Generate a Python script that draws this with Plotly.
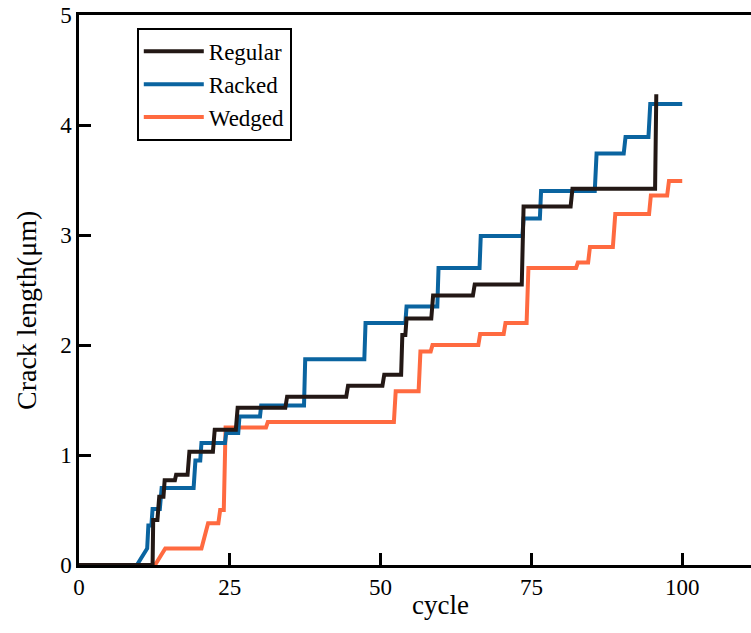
import plotly.graph_objects as go

# ---- data ----
regular_x = [0, 12.2, 12.3, 13.0, 13.3, 14.0, 14.2, 15.9, 16.1, 18.0, 18.3, 22.2, 22.5, 26.0, 26.3,
             34.2, 34.5, 44.3, 44.6, 50.3, 50.6, 53.4, 53.6, 54.1, 54.3, 58.4, 58.7, 65.3, 65.6,
             73.4, 73.7, 81.5, 81.8, 95.5, 95.7]
regular_y = [0, 0, 0.41, 0.41, 0.62, 0.62, 0.77, 0.77, 0.82, 0.82, 1.03, 1.03, 1.23, 1.23, 1.43,
             1.43, 1.53, 1.53, 1.63, 1.63, 1.73, 1.73, 2.09, 2.09, 2.24, 2.24, 2.45, 2.45, 2.55,
             2.55, 3.26, 3.26, 3.42, 3.42, 4.28]

racked_x = [0, 9.6, 11.3, 11.5, 12.0, 12.2, 13.4, 13.7, 19.0, 19.3, 20.1, 20.3, 24.2, 24.4, 26.4,
            26.6, 30.0, 30.2, 37.3, 37.5, 47.3, 47.5, 54.1, 54.3, 59.4, 59.6, 66.4, 66.6, 73.5,
            73.7, 76.4, 76.6, 85.5, 85.8, 90.3, 90.6, 94.4, 94.7, 100]
racked_y = [0, 0, 0.15, 0.36, 0.36, 0.51, 0.51, 0.70, 0.70, 0.95, 0.95, 1.11, 1.11, 1.20, 1.20,
            1.35, 1.35, 1.45, 1.45, 1.87, 1.87, 2.20, 2.20, 2.35, 2.35, 2.70, 2.70, 2.99, 2.99,
            3.15, 3.15, 3.40, 3.40, 3.74, 3.74, 3.89, 3.89, 4.19, 4.19]

wedged_x = [10.1, 12.6, 14.3, 20.3, 21.4, 23.1, 23.4, 24.0, 24.3, 31.0, 31.3, 52.2, 52.5, 56.3,
            56.6, 58.3, 58.6, 66.2, 66.5, 70.4, 70.7, 74.2, 74.5, 82.4, 82.7, 84.4, 84.7, 88.5,
            88.9, 94.5, 94.8, 97.5, 97.8, 100]
wedged_y = [0, 0, 0.15, 0.15, 0.38, 0.38, 0.50, 0.50, 1.25, 1.25, 1.30, 1.30, 1.58, 1.58,
            1.94, 1.94, 2.00, 2.00, 2.10, 2.10, 2.20, 2.20, 2.70, 2.70, 2.75, 2.75, 2.89, 2.89,
            3.19, 3.19, 3.36, 3.36, 3.49, 3.49]

x_ticks = [0, 25, 50, 75, 100]
y_ticks = [0, 1, 2, 3, 4, 5]
x_title = "cycle"
y_title = "Crack length(μm)"

FONT = "Liberation Serif"
BLACK = "#231815"
BLUE = "#0a64a0"
ORANGE = "#ff6a40"

W, H = 751, 633
ML, MR, MT, MB = 79, 0, 15, 68

fig = go.Figure()
fig.add_trace(go.Scatter(x=wedged_x, y=wedged_y, mode="lines", name="Wedged",
                         line=dict(color=ORANGE, width=4)))
fig.add_trace(go.Scatter(x=racked_x, y=racked_y, mode="lines", name="Racked",
                         line=dict(color=BLUE, width=4)))
fig.add_trace(go.Scatter(x=regular_x, y=regular_y, mode="lines", name="Regular",
                         line=dict(color=BLACK, width=4)))

pw, ph = W - ML - MR, H - MT - MB

fig.update_layout(
    width=W, height=H,
    margin=dict(l=ML, r=MR, t=MT, b=MB),
    paper_bgcolor="white", plot_bgcolor="white",
    font=dict(family=FONT, size=22, color="black"),
    showlegend=True,
    legend=dict(
        x=0.086, y=0.874, xanchor="left", yanchor="middle",
        traceorder="reversed",
        bordercolor="black", borderwidth=2, bgcolor="white",
        font=dict(family=FONT, size=23, color="black"),
        itemwidth=60, tracegroupgap=0, entrywidth=165, entrywidthmode="pixels",
    ),
    xaxis=dict(
        range=[0, 111.4], tickvals=x_ticks, ticks="inside", ticklen=12, tickwidth=2.5,
        tickcolor="black", showline=True, linecolor="black", linewidth=2.5, mirror=False,
        showgrid=False, zeroline=False, layer="below traces",
        tickfont=dict(family=FONT, size=23),
    ),
    yaxis=dict(
        range=[0, 5], tickvals=y_ticks, ticks="inside", ticklen=12, tickwidth=2.5,
        tickcolor="black", showline=True, linecolor="black", linewidth=2.5,
        showgrid=False, zeroline=False, layer="below traces",
        tickfont=dict(family=FONT, size=23),
    ),
    annotations=[
        dict(text=x_title, xref="paper", yref="paper",
             x=(440 - ML) / pw, y=-(605 - (MT + ph)) / ph,
             xanchor="center", yanchor="middle", showarrow=False,
             font=dict(family=FONT, size=27)),
        dict(text=y_title, xref="paper", yref="paper",
             x=-(ML - 26) / pw, y=(MT + ph - 311) / ph,
             xanchor="center", yanchor="middle", showarrow=False, textangle=-90,
             font=dict(family=FONT, size=28)),
    ],
)

# top frame line (mirror of x axis, no ticks)
fig.update_layout(xaxis2=dict(overlaying="x", side="top", range=[0, 111.4], showline=True,
                              linecolor="black", linewidth=2.5, showticklabels=False,
                              ticks="", showgrid=False, zeroline=False, matches="x"))
fig.add_trace(go.Scatter(x=[None], y=[None], xaxis="x2", showlegend=False, hoverinfo="skip"))

fig.write_html("out.html")
